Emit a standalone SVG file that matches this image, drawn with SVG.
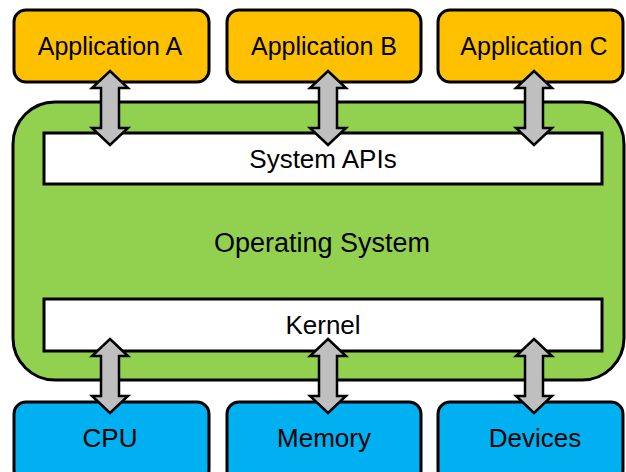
<svg xmlns="http://www.w3.org/2000/svg" width="626" height="472" viewBox="0 0 626 472">
<style>
.box{stroke:#000;stroke-width:3}
.app{fill:#FFC000}
.hw{fill:#00B0F0}
.os{fill:#92D050}
.layer{fill:#fff}
.arrow{fill:#BFBFBF;stroke:#000;stroke-width:2.5;stroke-linejoin:miter}
text{font-family:"Liberation Sans",Arial,sans-serif;font-size:25px;fill:#000;text-anchor:middle}
</style>
<defs>
<path id="dbl" d="M0,-37 L18,-20 L9,-20 L9,20 L18,20 L0,37 L-18,20 L-9,20 L-9,-20 L-18,-20 Z"/>
</defs>
<g id="os">
<rect class="box os" x="13" y="102" width="611" height="278" rx="42"/>
<text x="322" y="252" style="font-size:27px">Operating System</text>
</g>
<g id="sysapi">
<rect class="box layer" x="44" y="133" width="558" height="51"/>
<text x="323" y="168" style="font-size:26px">System APIs</text>
</g>
<g id="kernel">
<rect class="box layer" x="44" y="299" width="558" height="52"/>
<text x="323" y="334" style="font-size:26px">Kernel</text>
</g>
<g id="appA">
<rect class="box app" x="14" y="10" width="195" height="72" rx="12"/>
<text x="110" y="55">Application A</text>
</g>
<g id="appB">
<rect class="box app" x="227" y="10" width="194" height="72" rx="12"/>
<text x="324" y="55">Application B</text>
</g>
<g id="appC">
<rect class="box app" x="438" y="10" width="185" height="72" rx="12"/>
<text x="534" y="55">Application C</text>
</g>
<g id="cpu">
<rect class="box hw" x="14" y="402" width="195" height="80" rx="12"/>
<text x="110" y="447" style="font-size:26px">CPU</text>
</g>
<g id="memory">
<rect class="box hw" x="227" y="402" width="194" height="80" rx="12"/>
<text x="324" y="447" style="font-size:26px">Memory</text>
</g>
<g id="devices">
<rect class="box hw" x="438" y="402" width="185" height="80" rx="12"/>
<text x="535" y="447" style="font-size:26px">Devices</text>
</g>
<g id="connectors">
<use href="#dbl" class="arrow" transform="translate(110,108)"/>
<use href="#dbl" class="arrow" transform="translate(328,108)"/>
<use href="#dbl" class="arrow" transform="translate(534,108)"/>
<use href="#dbl" class="arrow" transform="translate(110,376)"/>
<use href="#dbl" class="arrow" transform="translate(328,376)"/>
<use href="#dbl" class="arrow" transform="translate(534,376)"/>
</g>
</svg>
